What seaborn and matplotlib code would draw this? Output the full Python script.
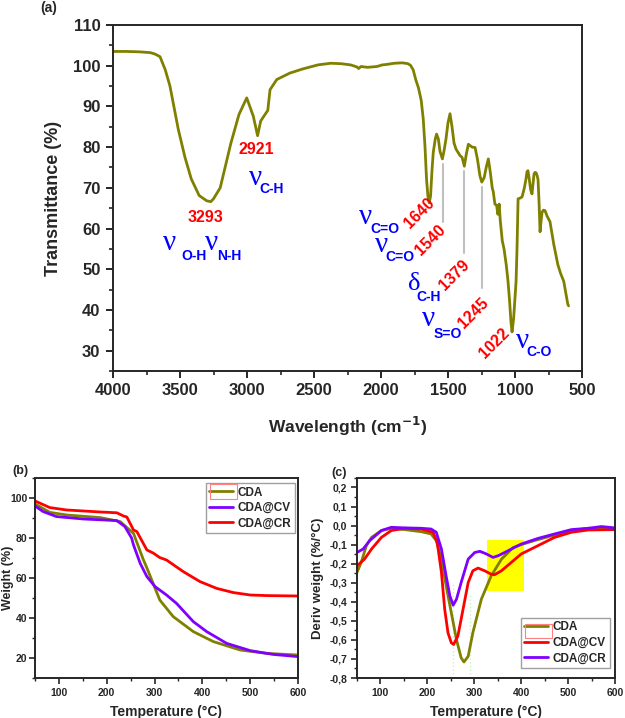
import numpy as np
import pandas as pd
import matplotlib
matplotlib.use("Agg")
import matplotlib.pyplot as plt
from matplotlib.ticker import MultipleLocator, FuncFormatter
from matplotlib.patches import Rectangle
import seaborn as sns

# ---------------- data: (a) FTIR ----------------
ftir_wn = [4000, 3900, 3800, 3720, 3690, 3665, 3649, 3610, 3575, 3513, 3463, 3416, 3357, 3300, 3270,
           3250, 3200, 3160, 3120, 3060, 3002, 2953, 2921, 2898, 2866, 2845, 2828, 2778, 2679, 2584,
           2470, 2375, 2300, 2227, 2180, 2167, 2150, 2100, 2030, 1990, 1960, 1900, 1840, 1800, 1780,
           1760, 1740, 1720, 1700, 1685, 1672, 1660, 1650, 1640, 1630, 1620, 1610, 1595, 1585, 1572,
           1560, 1542, 1530, 1515, 1500, 1485, 1470, 1455, 1440, 1410, 1395, 1378, 1365, 1348, 1320,
           1298, 1280, 1262, 1248, 1230, 1215, 1199, 1185, 1170, 1162, 1150, 1137, 1128, 1118, 1110,
           1095, 1082, 1065, 1052, 1040, 1030, 1022, 1010, 1000, 992, 985, 977, 960, 947, 930, 918,
           910, 903, 893, 883, 873, 865, 858, 850, 843, 835, 828, 820, 813, 805, 798, 788, 776, 760,
           739, 710, 680, 660, 636, 620, 606, 600]
ftir_t = [103.5, 103.5, 103.4, 103.2, 102.9, 102.5, 102.2, 99.0, 95.0, 84.4, 77.5, 72.2, 68.1, 66.8, 66.6,
          67.3, 70.0, 75.5, 81.0, 88.0, 92.1, 87.6, 82.8, 86.4, 88.0, 89.0, 94.1, 96.6, 98.2, 99.2,
          100.2, 100.6, 100.5, 100.2, 99.7, 99.3, 99.8, 99.6, 99.8, 100.2, 100.3, 100.6, 100.7, 100.5, 100.1,
          99.0, 96.5, 94.5, 91.5, 87.0, 80.3, 72.0, 68.0, 66.3, 68.0, 74.0, 78.7, 82.0, 83.2, 82.0,
          79.0, 77.1, 79.0, 82.0, 86.0, 88.2, 85.0, 81.0, 79.5, 77.9, 77.5, 75.3, 78.0, 80.7, 80.0,
          79.9, 77.0, 73.0, 71.4, 72.5, 75.0, 77.1, 74.0, 70.0, 69.0, 66.0, 65.7, 63.5, 66.0, 62.0,
          57.0, 55.0, 51.0, 47.0, 42.0, 37.0, 34.6, 38.0, 43.0, 47.0, 55.0, 67.3, 67.5, 67.8, 70.0, 72.2,
          74.0, 74.2, 72.0, 69.5, 68.5, 71.0, 73.4, 73.8, 73.7, 73.0, 72.0, 66.0, 59.2, 62.0, 64.0, 64.5, 64.4, 63.0,
          61.7, 56.0, 51.1, 49.0, 47.0, 44.0, 41.4, 41.0]

peak_labels = ["3293", "2921", "1640", "1540", "1379", "1245", "1022"]
peak_x = [3312, 2928, 1716, 1629, 1455, 1311, 1157]
peak_y = [62.7, 79.3, 63.9, 57.2, 48.6, 39.3, 31.8]
peak_rot = [0, 0, 45, 45, 45, 45, 45]

band_sym = ["ν", "ν", "ν", "ν", "ν", "δ", "ν", "ν"]
band_sub = ["O-H", "N-H", "C-H", "C=O", "C=O", "C-H", "S=O", "C-O"]
band_sym_x = [3627, 3313, 2985, 2167, 2048, 1796, 1696, 992]
band_sym_y = [54.7, 54.7, 70.8, 61.2, 54.3, 44.9, 36.0, 30.6]
band_sub_x = [3492, 3224, 2910, 2078, 1970, 1734, 1610, 918]
band_sub_y = [52.3, 52.3, 68.7, 59.0, 52.1, 42.1, 33.2, 28.6]

guide_x = [1540, 1379, 1245]
guide_top = [75.9, 74.2, 70.2]
guide_bot = [61.7, 53.9, 45.4]

# ---------------- data: (b) TGA ----------------
tga_cda_T = [50, 81, 116, 186, 228, 256, 276, 284, 297, 311, 339, 381, 423, 479, 535, 600]
tga_cda_W = [97.0, 92.8, 91.5, 90.2, 88.2, 82.3, 69.5, 65.0, 57.3, 49.0, 40.7, 33.2, 28.2, 24.0, 22.3, 21.5]
tga_cv_T = [50, 67, 95, 151, 221, 238, 252, 256, 270, 284, 301, 325, 346, 381, 409, 451, 500, 548, 600]
tga_cv_W = [96.0, 93.2, 90.7, 89.5, 88.7, 85.7, 80.0, 76.5, 67.3, 60.7, 55.7, 51.5, 47.3, 38.2, 33.2, 27.3, 23.7, 21.8, 20.7]
tga_cr_T = [50, 81, 116, 186, 221, 235, 242, 256, 263, 276, 284, 297, 311, 325, 360, 395, 430, 465, 500, 535, 600]
tga_cr_W = [98.5, 95.2, 94.0, 93.0, 92.6, 91.0, 90.5, 84.0, 83.2, 77.5, 74.0, 72.5, 70.2, 69.0, 63.2, 58.2, 54.8, 52.7, 51.5, 51.2, 51.0]

# ---------------- data: (c) DTG ----------------
dtg_cda_T = [50, 59, 70, 81, 102, 123, 152, 187, 208, 219, 230, 240, 251, 262, 272, 278, 287, 297,
             315, 336, 358, 383, 400, 426, 469, 511, 543, 600]
dtg_cda_D = [-0.246, -0.193, -0.105, -0.062, -0.026, -0.014, -0.021, -0.032, -0.044, -0.079, -0.176,
             -0.316, -0.457, -0.598, -0.694, -0.716, -0.686, -0.562, -0.387, -0.264, -0.176, -0.115,
             -0.100, -0.080, -0.051, -0.025, -0.014, -0.018]
dtg_cv_T = [50, 66, 81, 102, 123, 152, 187, 212, 221, 230, 237, 244, 251, 256, 265, 276, 287, 297,
            308, 322, 336, 343, 358, 379, 400, 436, 471, 507, 543, 600]
dtg_cv_D = [-0.211, -0.176, -0.123, -0.062, -0.026, -0.014, -0.018, -0.035, -0.088, -0.246, -0.440,
            -0.563, -0.615, -0.624, -0.580, -0.440, -0.299, -0.237, -0.223, -0.237, -0.255, -0.258,
            -0.237, -0.193, -0.149, -0.105, -0.062, -0.035, -0.023, -0.021]
dtg_cr_T = [50, 63, 77, 102, 123, 152, 187, 208, 219, 230, 240, 248, 255, 262, 272, 287, 301, 312,
            326, 340, 351, 365, 379, 400, 436, 471, 507, 543, 571, 600]
dtg_cr_D = [-0.141, -0.123, -0.079, -0.026, -0.009, -0.012, -0.014, -0.018, -0.035, -0.123, -0.264,
            -0.369, -0.418, -0.387, -0.299, -0.176, -0.141, -0.135, -0.149, -0.167, -0.158, -0.141,
            -0.123, -0.097, -0.067, -0.044, -0.021, -0.014, -0.005, -0.012]

highlight_T = [328, 405]
highlight_D = [-0.345, -0.075]

series_names = ["CDA", "CDA@CV", "CDA@CR"]

OLIVE = "#808000"
RED = "#ff0000"
PURPLE = "#8000ff"

# ---------------- style ----------------
sns.set_style("ticks")
plt.rcParams["font.family"] = ["Liberation Sans", "DejaVu Sans"]
plt.rcParams["font.weight"] = "bold"
plt.rcParams["axes.labelweight"] = "bold"
plt.rcParams["axes.linewidth"] = 1.4
plt.rcParams["xtick.direction"] = "out"
plt.rcParams["ytick.direction"] = "out"

fig = plt.figure(figsize=(6.25, 7.18), dpi=100)
axA = fig.add_axes([0.1808, 0.4833, 0.7504, 0.4819])
axB = fig.add_axes([0.056, 0.0557, 0.4208, 0.2786])
axC = fig.add_axes([0.5712, 0.0557, 0.4128, 0.2786])

# ---------------- (a) ----------------
dfA = pd.DataFrame({"wn": ftir_wn, "T": ftir_t})
sns.lineplot(data=dfA, x="wn", y="T", ax=axA, color=OLIVE, lw=2.0, estimator=None, sort=False)
axA.set_xlim(4000, 500)
axA.set_ylim(25, 110)
axA.xaxis.set_major_locator(MultipleLocator(500))
axA.xaxis.set_minor_locator(MultipleLocator(250))
axA.yaxis.set_minor_locator(MultipleLocator(5))
axA.set_yticks([30, 40, 50, 60, 70, 80, 90, 100, 110])
axA.tick_params(axis="both", which="major", length=5, width=1.4, labelsize=12, pad=4)
axA.tick_params(axis="both", which="minor", length=3, width=1.2)
for lab in axA.get_xticklabels() + axA.get_yticklabels():
    lab.set_fontweight("bold")
axA.set_xlabel("Wavelength (cm$^{\\mathbf{-1}}$)", fontsize=12.5, fontweight="bold", labelpad=12)
axA.set_ylabel("Transmittance (%)", fontsize=13, fontweight="bold", labelpad=8)

for gx, gt, gb in zip(guide_x, guide_top, guide_bot):
    axA.plot([gx, gx], [gb, gt], color="#c0c0c0", lw=1.5, zorder=1)

for lab, px, py, rot in zip(peak_labels, peak_x, peak_y, peak_rot):
    axA.text(px, py, lab, color="red", fontsize=11.5, fontweight="bold", rotation=rot,
             ha="center", va="center", rotation_mode="anchor")

for sym, sub, sx, sy, bx, by in zip(band_sym, band_sub, band_sym_x, band_sym_y, band_sub_x, band_sub_y):
    axA.text(sx, sy, sym, color="blue", fontsize=(21 if sym == "ν" else 19),
             family=["Liberation Serif", "DejaVu Serif"],
             fontweight="normal", ha="left", va="baseline")
    axA.text(bx, by, sub, color="blue", fontsize=10, fontweight="bold", ha="left", va="baseline")

fig.text(49 / 625, 1 - 8 / 718, "(a)", fontsize=10, fontweight="bold", ha="center", va="center")

# ---------------- (b) ----------------
dfB = pd.concat([
    pd.DataFrame({"T": tga_cda_T, "W": tga_cda_W, "s": series_names[0]}),
    pd.DataFrame({"T": tga_cv_T, "W": tga_cv_W, "s": series_names[1]}),
    pd.DataFrame({"T": tga_cr_T, "W": tga_cr_W, "s": series_names[2]}),
])
palB = {series_names[0]: OLIVE, series_names[1]: PURPLE, series_names[2]: RED}
sns.lineplot(data=dfB, x="T", y="W", hue="s", palette=palB, ax=axB, lw=2.0, estimator=None)
axB.set_xlim(50, 600)
axB.set_ylim(10, 110)
axB.set_xticks([100, 200, 300, 400, 500, 600])
axB.xaxis.set_minor_locator(MultipleLocator(50))
axB.set_yticks([20, 40, 60, 80, 100])
axB.yaxis.set_minor_locator(MultipleLocator(10))
axB.tick_params(axis="both", which="major", length=4, width=1.2, labelsize=7.5, pad=3)
axB.tick_params(axis="y", which="major", pad=1.5)
axB.tick_params(axis="both", which="minor", length=2.5, width=1.0)
for lab in axB.get_xticklabels() + axB.get_yticklabels():
    lab.set_fontweight("bold")
axB.set_xlabel("Temperature (°C)", fontsize=10, fontweight="bold", labelpad=5)
axB.set_ylabel("Weight (%)", fontsize=9, fontweight="bold")
axB.yaxis.set_label_coords(-0.08, 0.5)
legB = axB.legend(loc="upper right", bbox_to_anchor=(0.989, 0.975), borderaxespad=0, fontsize=8.5,
                  frameon=True, fancybox=False, edgecolor="#888888", handlelength=2.0,
                  handletextpad=0.4, labelspacing=0.3, borderpad=0.3)
legB.get_frame().set_linewidth(1.0)
for t in legB.get_texts():
    t.set_fontweight("bold")
fig.text(20 / 625, 1 - 471 / 718, "(b)", fontsize=9, fontweight="bold", ha="center", va="center")

# ---------------- (c) ----------------
dfC = pd.concat([
    pd.DataFrame({"T": dtg_cda_T, "D": dtg_cda_D, "s": series_names[0]}),
    pd.DataFrame({"T": dtg_cv_T, "D": dtg_cv_D, "s": series_names[1]}),
    pd.DataFrame({"T": dtg_cr_T, "D": dtg_cr_D, "s": series_names[2]}),
])
palC = {series_names[0]: OLIVE, series_names[1]: RED, series_names[2]: PURPLE}
axC.add_patch(Rectangle((highlight_T[0], highlight_D[0]), highlight_T[1] - highlight_T[0],
                        highlight_D[1] - highlight_D[0], facecolor="#ffff00", edgecolor="none", zorder=0.5))
axC.plot([255, 255], [-0.78, -0.30], color="#c8f0c8", lw=1, ls=":", zorder=1)
axC.plot([291, 291], [-0.78, -0.36], color="#c8f0c8", lw=1, ls=":", zorder=1)
sns.lineplot(data=dfC, x="T", y="D", hue="s", palette=palC, ax=axC, lw=2.0, estimator=None)
axC.set_xlim(50, 600)
axC.set_ylim(-0.8, 0.25)
axC.set_xticks([100, 200, 300, 400, 500, 600])
axC.xaxis.set_minor_locator(MultipleLocator(50))
axC.set_yticks(np.round(np.arange(-0.8, 0.21, 0.1), 1))
axC.yaxis.set_minor_locator(MultipleLocator(0.05))
axC.yaxis.set_major_formatter(FuncFormatter(lambda v, p: f"{v:.1f}".replace(".", ",").replace("-0,0", "0,0")))
axC.tick_params(axis="both", which="major", length=4, width=1.2, labelsize=7.5, pad=3)
axC.tick_params(axis="both", which="minor", length=2.5, width=1.0)
for lab in axC.get_xticklabels() + axC.get_yticklabels():
    lab.set_fontweight("bold")
axC.set_xlabel("Temperature (°C)", fontsize=10, fontweight="bold", labelpad=5)
axC.set_ylabel("Deriv weight (%/°C)", fontsize=9.5, fontweight="bold")
axC.yaxis.set_label_coords(-0.128, 0.5)
legC = axC.legend(loc="lower right", bbox_to_anchor=(0.981, 0.05), borderaxespad=0, fontsize=8.5,
                  frameon=True, fancybox=False, edgecolor="#888888", handlelength=2.0,
                  handletextpad=0.4, labelspacing=0.3, borderpad=0.3)
legC.get_frame().set_linewidth(1.0)
for t in legC.get_texts():
    t.set_fontweight("bold")
fig.text(339 / 625, 1 - 473 / 718, "(c)", fontsize=9, fontweight="bold", ha="center", va="center")

# small red outline boxes seen around the first legend handle
for (x0, y0, x1, y1) in [(210, 484, 237, 499), (525, 624, 552, 638)]:
    fig.patches.append(Rectangle((x0 / 625, 1 - y1 / 718), (x1 - x0) / 625, (y1 - y0) / 718,
                                 transform=fig.transFigure, fill=False, edgecolor="#ff8080", lw=0.8))

fig.savefig("out.png", dpi=100)
